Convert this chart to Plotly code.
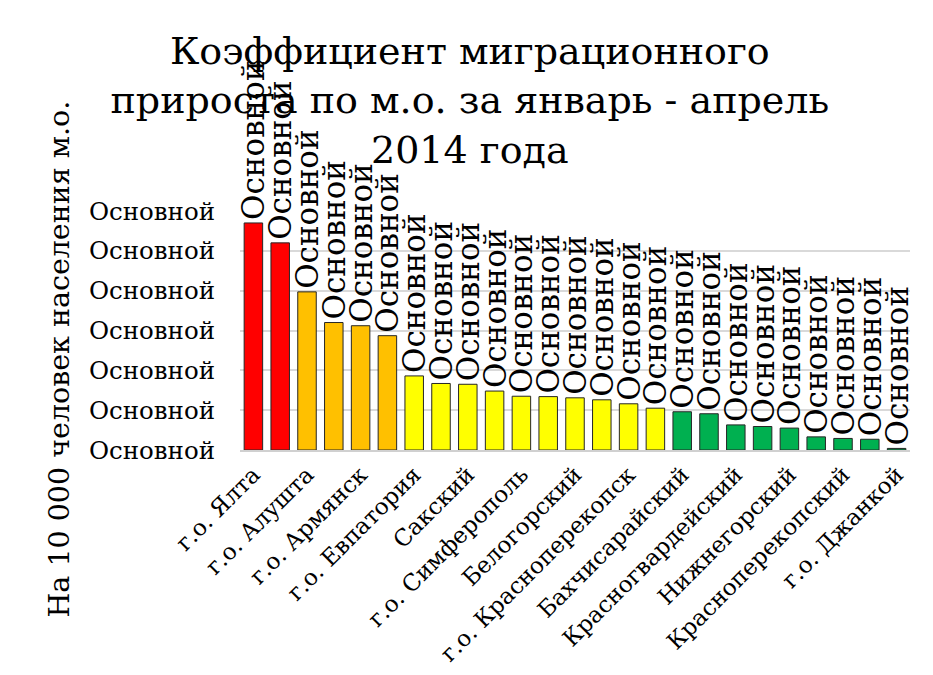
"""Коэффициент миграционного прироста по м.о. за январь - апрель 2014 года."""

import plotly.graph_objects as go

# municipalities in chart order (only every second one is labelled on the axis)
CATEGORIES = [
    "г.о. Ялта", "г.о. Феодосия",
    "г.о. Алушта", "г.о. Судак",
    "г.о. Армянск", "г.о. Керчь",
    "г.о. Евпатория", "Черноморский",
    "Сакский", "г.о. Саки",
    "г.о. Симферополь", "Симферопольский",
    "Белогорский", "Ленинский",
    "г.о. Красноперекопск", "Кировский",
    "Бахчисарайский", "Советский",
    "Красногвардейский", "Раздольненский",
    "Нижнегорский", "Первомайский",
    "Красноперекопский", "Джанкойский",
    "г.о. Джанкой",
]
VALUES = [
    57.0, 52.0, 39.7, 32.0, 31.2, 28.7, 18.6, 16.7, 16.5, 14.8,
    13.5, 13.4, 13.1, 12.6, 11.6, 10.5, 9.6, 9.1, 6.3, 5.9,
    5.5, 3.3, 2.9, 2.7, 0.4,
]
Y_TICKS = [0, 10, 20, 30, 40, 50, 60]
NUMBER_FORMAT = "Основной"  # excel's "General" format leaked into every label
TITLE = "Коэффициент миграционного<br>прироста по м.о. за январь - апрель<br>2014 года"
Y_TITLE = "На 10 000 человек населения м.о."

RED = "#FF0000"
ORANGE = "#FFC000"
YELLOW = "#FFFF00"
GREEN = "#00B050"
BANDS = [(RED, 2), (ORANGE, 4), (YELLOW, 10), (GREEN, 9)]

W, H = 933, 675
# the page adds an 8px body margin, so everything is placed 8px up/left
PLOT_L, PLOT_R, PLOT_T, PLOT_B = 232, 902, 203, 442
FONT = "DejaVu Serif"


def px_x(px):
    return (px - PLOT_L) / (PLOT_R - PLOT_L)


def px_y(py):
    return (PLOT_B - py) / (PLOT_B - PLOT_T)


bar_colors = [c for c, n in BANDS for _ in range(n)]

fig = go.Figure(
    go.Bar(
        x=CATEGORIES,
        y=VALUES,
        marker=dict(color=bar_colors, line=dict(color="#262626", width=1)),
        text=[NUMBER_FORMAT] * len(VALUES),
        textposition="outside",
        textangle=-90,
        constraintext="none",
        cliponaxis=False,
        textfont=dict(family=FONT, size=31, color="black"),
        hoverinfo="x+y",
    )
)

fig.update_layout(
    width=W,
    height=H,
    paper_bgcolor="white",
    plot_bgcolor="white",
    showlegend=False,
    bargap=0.31,
    margin=dict(l=PLOT_L, r=W - PLOT_R, t=PLOT_T, b=H - PLOT_B),
    title=dict(
        text=TITLE,
        font=dict(family=FONT, size=38, color="black"),
        x=0.495,
        xanchor="center",
        y=1 - 56 / H,
        yanchor="top",
    ),
)

fig.update_xaxes(
    type="category",
    tickvals=CATEGORIES[::2],
    ticktext=CATEGORIES[::2],
    tickangle=-45,
    tickfont=dict(family=FONT, size=23, color="black"),
    showgrid=False,
    showline=True,
    linecolor="#D0D0D0",
    linewidth=2,
    ticks="",
    automargin=False,
)
fig.update_yaxes(
    range=[0, 60],
    tickvals=Y_TICKS,
    ticktext=[NUMBER_FORMAT] * len(Y_TICKS),
    tickfont=dict(family=FONT, size=24.5, color="black"),
    showgrid=True,
    gridcolor="#D9D9D9",
    gridwidth=1.5,
    zeroline=False,
    showline=False,
    ticklabelstandoff=24,
    automargin=False,
)

# y-axis title sits lower than the plot centre in the original, so place it by hand
fig.add_annotation(
    text=Y_TITLE,
    textangle=-90,
    xref="paper", yref="paper",
    x=px_x(32), y=px_y(351),
    showarrow=False,
    font=dict(family=FONT, size=28.5, color="black"),
)

fig.write_html("out.html")
